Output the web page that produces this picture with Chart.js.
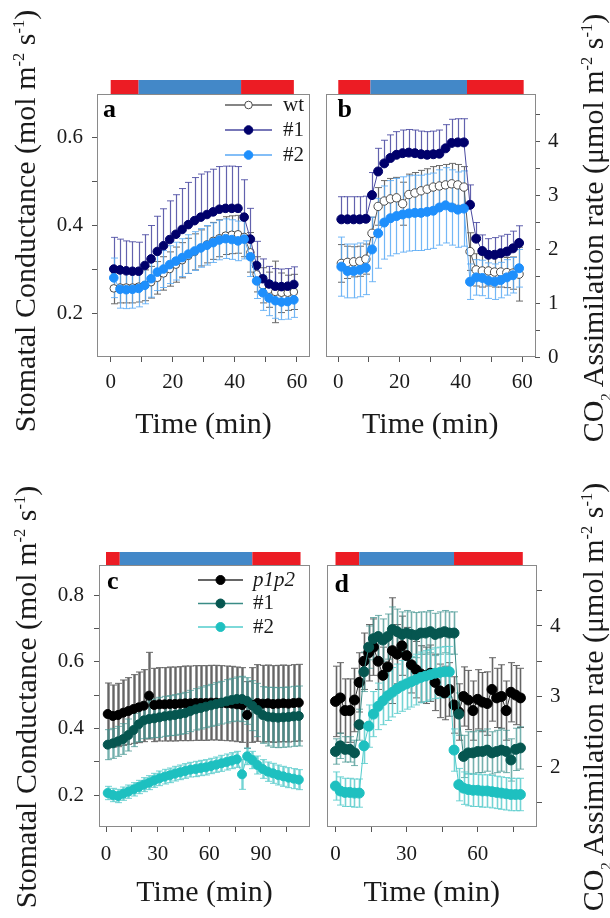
<!DOCTYPE html>
<html>
<head>
<meta charset="utf-8">
<script src="https://cdn.jsdelivr.net/npm/chart.js@4.4.1/dist/chart.umd.min.js"></script>
<style>
html, body { margin: 0; padding: 0; background: #fff; }
body { width: 610px; height: 918px; position: relative; overflow: hidden; font-family: "Liberation Serif", "Times New Roman", serif; color: #1a1a1a; }
canvas { position: absolute; }
.ytitle { position: absolute; width: 460px; height: 36px; line-height: 36px; font-size: 30px; text-align: center; white-space: nowrap; transform: rotate(-90deg); }
.ytitle sup { font-size: 55%; vertical-align: 0.65em; line-height: 0; }
.ytitle sub { font-size: 50%; vertical-align: -0.5em; line-height: 0; }
</style>
</head>
<body>
<canvas id="chartA" width="280" height="387" style="left:40px;top:60px"></canvas>
<canvas id="chartB" width="270" height="387" style="left:320px;top:60px"></canvas>
<canvas id="chartC" width="280" height="387" style="left:40px;top:530px"></canvas>
<canvas id="chartD" width="270" height="387" style="left:320px;top:530px"></canvas>

<div class="ytitle" style="left:-205px;top:203px">Stomatal Conductance (mol m<sup>-2</sup> s<sup>-1</sup>)</div>
<div class="ytitle" style="left:-204px;top:679px">Stomatal Conductance (mol m<sup>-2</sup> s<sup>-1</sup>)</div>
<div class="ytitle" style="left:363px;top:210px">CO<sub>2</sub> Assimilation rate (μmol m<sup>-2</sup> s<sup>-1</sup>)</div>
<div class="ytitle" style="left:363px;top:679px">CO<sub>2</sub> Assimilation rate (μmol m<sup>-2</sup> s<sup>-1</sup>)</div>

<script>
// ============================================================================
// DATA
// ============================================================================

// light regime strips above each panel (red / blue / red), in minutes
const aLight = [0, 9, 42, 59];
const bLight = [0, 10.5, 42, 60.5];
const cLight = [0, 8, 85, 113];
const dLight = [0, 10, 50, 79];

// panel a - stomatal conductance, wt / #1 / #2
const aTime = [1,3,5,7,9,11,13,15,17,19,21,23,25,27,29,31,33,35,37,39,41,43,45,47,49,51,53,55,57,59];
const aWt = [0.258,0.26,0.26,0.26,0.262,0.265,0.272,0.282,0.292,0.302,0.312,0.322,0.332,0.341,0.35,0.358,0.366,0.372,0.378,0.38,0.381,0.375,0.34,0.29,0.265,0.255,0.25,0.248,0.248,0.25];
const aWtErr = [0.035,0.035,0.035,0.035,0.035,0.035,0.036,0.037,0.038,0.039,0.04,0.04,0.04,0.041,0.041,0.042,0.042,0.042,0.043,0.043,0.043,0.045,0.045,0.04,0.04,0.04,0.07,0.045,0.04,0.04];
const aL1 = [0.302,0.3,0.298,0.297,0.297,0.31,0.325,0.342,0.355,0.369,0.381,0.392,0.403,0.412,0.42,0.426,0.432,0.438,0.44,0.44,0.44,0.42,0.37,0.31,0.28,0.268,0.263,0.262,0.263,0.267];
const aL1Err = [0.072,0.07,0.068,0.067,0.066,0.07,0.076,0.08,0.084,0.088,0.09,0.093,0.096,0.098,0.098,0.097,0.097,0.097,0.096,0.096,0.095,0.085,0.07,0.055,0.045,0.04,0.04,0.04,0.04,0.04];
const aL2 = [0.282,0.256,0.255,0.256,0.258,0.265,0.28,0.295,0.302,0.312,0.32,0.328,0.336,0.343,0.35,0.356,0.362,0.368,0.371,0.369,0.366,0.37,0.33,0.275,0.248,0.236,0.23,0.227,0.228,0.232];
const aL2Err = [0.045,0.043,0.043,0.043,0.042,0.042,0.042,0.042,0.042,0.043,0.043,0.043,0.044,0.044,0.044,0.045,0.045,0.045,0.045,0.045,0.045,0.045,0.045,0.04,0.04,0.04,0.04,0.04,0.04,0.04];

// panel b - CO2 assimilation, wt / #1 / #2
const bTime = [1,3,5,7,9,11,13,15,17,19,21,23,25,27,29,31,33,35,37,39,41,43,45,47,49,51,53,55,57,59];
const bWt = [1.74,1.76,1.77,1.78,1.82,2.3,2.8,2.9,2.94,2.96,2.85,3.02,3.05,3.09,3.12,3.16,3.18,3.2,3.22,3.2,3.16,1.96,1.62,1.6,1.6,1.58,1.58,1.57,1.56,1.54];
const bWtErr = [0.35,0.3,0.28,0.28,0.28,0.3,0.35,0.38,0.38,0.38,0.4,0.38,0.38,0.38,0.38,0.38,0.38,0.38,0.38,0.38,0.38,0.35,0.3,0.3,0.28,0.28,0.28,0.28,0.3,0.5];
const bL1 = [2.56,2.56,2.56,2.56,2.57,3.01,3.45,3.6,3.7,3.76,3.79,3.8,3.79,3.77,3.76,3.77,3.78,3.88,3.98,3.99,3.99,2.83,2.2,1.97,1.9,1.9,1.93,1.96,2.02,2.12];
const bL1Err = [0.42,0.42,0.42,0.42,0.42,0.42,0.43,0.43,0.43,0.43,0.43,0.43,0.43,0.43,0.43,0.43,0.44,0.44,0.44,0.44,0.44,0.37,0.3,0.3,0.3,0.32,0.32,0.32,0.32,0.32];
const bL2 = [1.68,1.6,1.6,1.62,1.66,2.0,2.3,2.5,2.58,2.62,2.65,2.67,2.68,2.68,2.7,2.72,2.78,2.82,2.78,2.74,2.76,1.4,1.48,1.47,1.42,1.4,1.43,1.48,1.52,1.65];
const bL2Err = [0.55,0.5,0.5,0.5,0.5,0.6,0.65,0.68,0.7,0.7,0.7,0.7,0.7,0.7,0.7,0.7,0.7,0.7,0.7,0.7,0.7,0.33,0.33,0.33,0.33,0.33,0.33,0.33,0.33,0.35];

// panel c - stomatal conductance, p1p2 / #1 / #2
const cTime = [1,4,7,10,13,16,19,22,25,28,31,34,37,40,43,46,49,52,55,58,61,64,67,70,73,76,79,82,85,88,91,94,97,100,103,106,109,112];
const cP = [0.443,0.437,0.44,0.447,0.452,0.458,0.463,0.468,0.498,0.47,0.472,0.472,0.473,0.473,0.474,0.475,0.475,0.476,0.476,0.476,0.477,0.477,0.476,0.475,0.474,0.472,0.47,0.44,0.47,0.476,0.474,0.475,0.473,0.474,0.475,0.474,0.476,0.477];
const cPErr = [0.093,0.093,0.095,0.098,0.1,0.103,0.106,0.108,0.13,0.11,0.11,0.11,0.111,0.111,0.111,0.112,0.112,0.112,0.112,0.112,0.112,0.112,0.112,0.112,0.112,0.112,0.112,0.1,0.112,0.115,0.115,0.115,0.115,0.115,0.115,0.115,0.115,0.115];
const cL1 = [0.351,0.355,0.361,0.368,0.38,0.395,0.412,0.424,0.428,0.43,0.433,0.436,0.438,0.44,0.443,0.446,0.452,0.457,0.461,0.465,0.469,0.473,0.477,0.481,0.485,0.488,0.488,0.482,0.468,0.455,0.44,0.435,0.433,0.432,0.433,0.434,0.436,0.437];
const cL1Err = [0.045,0.045,0.045,0.046,0.048,0.05,0.052,0.055,0.057,0.058,0.06,0.06,0.06,0.061,0.061,0.062,0.062,0.062,0.063,0.063,0.063,0.064,0.064,0.065,0.065,0.066,0.068,0.07,0.075,0.08,0.085,0.088,0.09,0.09,0.09,0.09,0.09,0.09];
const cL2 = [0.206,0.2,0.197,0.204,0.21,0.217,0.224,0.231,0.237,0.244,0.25,0.255,0.259,0.264,0.268,0.272,0.276,0.278,0.281,0.283,0.287,0.291,0.295,0.299,0.303,0.307,0.262,0.316,0.305,0.29,0.278,0.27,0.265,0.26,0.256,0.252,0.249,0.246];
const cL2Err = [0.02,0.02,0.02,0.02,0.02,0.02,0.02,0.021,0.021,0.021,0.022,0.022,0.022,0.022,0.022,0.022,0.022,0.023,0.023,0.023,0.023,0.023,0.024,0.024,0.024,0.024,0.045,0.025,0.026,0.027,0.028,0.029,0.03,0.03,0.03,0.03,0.03,0.03];

// panel d - CO2 assimilation, p1p2 / #1 / #2
const dTime = [0,2,4,6,8,10,12,14,16,18,20,22,24,26,28,30,32,34,36,38,40,42,44,46,48,50,52,54,56,58,60,62,64,66,68,70,72,74,76,78];
const dP = [2.93,2.98,2.8,2.8,2.95,3.2,3.5,3.62,3.7,3.5,3.3,3.42,3.65,3.6,3.72,3.58,3.45,3.38,3.32,3.3,3.33,3.2,3.08,3.05,3.1,2.88,2.78,3.0,2.95,2.8,2.96,2.92,2.9,3.1,2.98,3.0,2.8,3.06,3.02,2.98];
const dPErr = [0.5,0.5,0.45,0.45,0.45,0.42,0.4,0.4,0.4,0.4,0.4,0.4,0.75,0.42,0.42,0.4,0.4,0.4,0.4,0.4,0.4,0.4,0.38,0.38,0.38,0.4,0.4,0.42,0.42,0.42,0.42,0.42,0.45,0.45,0.42,0.45,0.42,0.42,0.42,0.42];
const dL1 = [2.22,2.3,2.25,2.25,2.2,2.6,3.35,3.7,3.82,3.85,3.8,3.85,3.95,3.92,3.88,3.9,3.88,3.87,3.9,3.9,3.92,3.88,3.9,3.92,3.9,3.9,2.75,2.15,2.2,2.2,2.22,2.22,2.24,2.2,2.22,2.24,2.22,2.1,2.25,2.27];
const dL1Err = [0.18,0.18,0.18,0.18,0.18,0.22,0.28,0.3,0.3,0.3,0.3,0.32,0.32,0.32,0.32,0.32,0.32,0.32,0.3,0.3,0.3,0.3,0.3,0.3,0.3,0.3,0.3,0.3,0.3,0.3,0.3,0.3,0.3,0.3,0.3,0.3,0.3,0.3,0.3,0.3];
const dL2 = [1.73,1.66,1.64,1.64,1.63,1.63,2.3,2.58,2.75,2.86,2.94,3.01,3.06,3.11,3.15,3.18,3.21,3.24,3.27,3.29,3.31,3.33,3.34,3.35,3.35,2.24,1.75,1.7,1.68,1.67,1.67,1.66,1.66,1.65,1.64,1.63,1.62,1.61,1.61,1.61];
const dL2Err = [0.2,0.2,0.2,0.2,0.2,0.2,0.25,0.3,0.32,0.33,0.34,0.35,0.35,0.35,0.36,0.36,0.36,0.36,0.36,0.36,0.36,0.36,0.36,0.36,0.36,0.3,0.23,0.23,0.23,0.23,0.23,0.23,0.23,0.23,0.23,0.23,0.23,0.23,0.23,0.23];

// axis ticks (all tick marks, then the ones that get a label)
const abXTicks = [0, 10, 20, 30, 40, 50, 60];
const abXLabels = [0, 20, 40, 60];
const cXTicks = [0, 15, 30, 45, 60, 75, 90, 105];
const cXLabels = [0, 30, 60, 90];
const dXTicks = [0, 15, 30, 45, 60, 75];
const dXLabels = [0, 30, 60];
const aYTicks = [0.2, 0.3, 0.4, 0.5, 0.6];
const aYLabels = [0.2, 0.4, 0.6];
const bYTicks = [0, 0.5, 1, 1.5, 2, 2.5, 3, 3.5, 4, 4.5];
const bYLabels = [0, 1, 2, 3, 4];
const cYTicks = [0.2, 0.3, 0.4, 0.5, 0.6, 0.7, 0.8];
const cYLabels = [0.2, 0.4, 0.6, 0.8];
const dYTicks = [1.5, 2, 2.5, 3, 3.5, 4, 4.5];
const dYLabels = [2, 3, 4];

// ============================================================================
// STYLES
// ============================================================================

const FONT = '"Liberation Serif", "Times New Roman", serif';
const TEXT = '#1a1a1a';
const RED = '#ec1c24';
const BLUE = '#4388c8';

const wtStyle = { borderColor: '#5c5c5c', pointBackgroundColor: '#fff', pointBorderColor: '#4a4a4a', pointBorderWidth: 1, pointRadius: 3.8, errColor: '#6b6b6b', order: 3 };
const a1Style = { borderColor: '#4a4aa0', pointBackgroundColor: '#00006b', pointBorderColor: '#00006b', pointRadius: 4.3, errColor: 'rgba(70,70,160,0.85)', errDir: 'up', order: 2 };
const a2Style = { borderColor: '#5aa9f5', pointBackgroundColor: '#1e8ffc', pointBorderColor: '#1e8ffc', pointRadius: 4.3, errColor: 'rgba(90,170,245,0.85)', order: 1 };
const pStyle = { borderColor: '#333', pointBackgroundColor: '#000', pointBorderColor: '#000', pointRadius: 4.5, errColor: '#666', order: 3, legendFont: 'italic 21px ' + FONT };
const t1Style = { borderColor: '#3a8c86', pointBackgroundColor: '#065650', pointBorderColor: '#065650', pointRadius: 4.5, errColor: 'rgba(70,150,145,0.75)', order: 2 };
const t2Style = { borderColor: '#52cccc', pointBackgroundColor: '#1ec0c0', pointBorderColor: '#1ec0c0', pointRadius: 4.5, errColor: 'rgba(90,205,205,0.85)', order: 1 };

function series(label, time, vals, err, style, extra) {
    return Object.assign({
        label: label,
        data: time.map((t, i) => ({ x: t, y: vals[i] })),
        err: err,
        showLine: true,
        borderWidth: 1,
        pointHoverRadius: 0
    }, style, extra || {});
}

// ============================================================================
// PLUGIN: error bars, frame, light strip, panel letter, legend
// ============================================================================

const deco = {
    id: 'deco',
    beforeDatasetsDraw(chart, args, o) {
        const ctx = chart.ctx, xs = chart.scales.x, ys = chart.scales.y;
        const cap = 3.5;
        ctx.save();
        ctx.lineWidth = o.errWidth;
        chart.data.datasets.forEach(ds => {
            ctx.strokeStyle = ds.errColor;
            ds.data.forEach((p, i) => {
                const e = ds.err[i];
                const px = Math.round(xs.getPixelForValue(p.x)) + 0.5;
                const top = ys.getPixelForValue(p.y + e);
                const bot = ys.getPixelForValue(ds.errDir === 'up' ? p.y : p.y - e);
                ctx.beginPath();
                ctx.moveTo(px, top); ctx.lineTo(px, bot);
                ctx.stroke();
                ctx.lineWidth = 1;
                ctx.beginPath();
                ctx.moveTo(px - cap, top); ctx.lineTo(px + cap, top);
                if (ds.errDir !== 'up') { ctx.moveTo(px - cap, bot); ctx.lineTo(px + cap, bot); }
                ctx.stroke();
                ctx.lineWidth = o.errWidth;
            });
        });
        ctx.restore();
    },
    afterDraw(chart, args, o) {
        const ctx = chart.ctx, a = chart.chartArea, xs = chart.scales.x;
        ctx.save();

        // light strip
        const cols = [RED, BLUE, RED];
        for (let i = 0; i < o.light.length - 1; i++) {
            const x0 = xs.getPixelForValue(o.light[i]);
            const x1 = xs.getPixelForValue(o.light[i + 1]);
            ctx.fillStyle = cols[i];
            ctx.fillRect(x0, a.top - o.stripH, x1 - x0, o.stripH);
        }

        // frame
        ctx.strokeStyle = '#8a8a8a';
        ctx.lineWidth = 1;
        ctx.strokeRect(Math.round(a.left) + 0.5, Math.round(a.top) + 0.5, Math.round(a.right - a.left) - 1, Math.round(a.bottom - a.top) - 1);

        // panel letter
        ctx.fillStyle = '#000';
        ctx.font = 'bold 26px ' + FONT;
        ctx.textBaseline = 'alphabetic';
        ctx.textAlign = 'left';
        ctx.fillText(o.letter, a.left + o.letterX, a.top + o.letterY);

        // legend
        const lg = o.legend;
        if (lg) {
            chart.data.datasets.forEach((ds, i) => {
                const y0 = a.top + lg.dy + i * lg.gap;
                const x0 = a.left + lg.dx;
                ctx.strokeStyle = ds.borderColor;
                ctx.lineWidth = 1.5;
                ctx.beginPath();
                ctx.moveTo(x0, y0); ctx.lineTo(x0 + lg.len, y0);
                ctx.stroke();
                ctx.beginPath();
                ctx.arc(x0 + lg.len / 2, y0, ds.pointRadius, 0, Math.PI * 2);
                ctx.fillStyle = ds.pointBackgroundColor;
                ctx.fill();
                ctx.lineWidth = 1;
                ctx.strokeStyle = ds.pointBorderColor;
                ctx.stroke();
                ctx.font = ds.legendFont || ('21px ' + FONT);
                ctx.fillStyle = TEXT;
                ctx.textBaseline = 'middle';
                ctx.fillText(ds.label, x0 + lg.len + lg.textGap, y0);
            });
        }
        ctx.restore();
    }
};

// ============================================================================
// CHART BUILDER
// ============================================================================

function makeChart(id, cfg) {
    const tickFont = { family: FONT, size: 21 };
    const grid = { drawOnChartArea: false, drawTicks: true, tickLength: 5, color: '#555', lineWidth: 1 };
    return new Chart(document.getElementById(id), {
        type: 'scatter',
        data: { datasets: cfg.datasets },
        options: {
            responsive: false,
            animation: false,
            devicePixelRatio: 1,
            layout: { padding: cfg.padding },
            plugins: { legend: { display: false }, tooltip: { enabled: false }, deco: cfg.deco },
            scales: {
                x: {
                    type: 'linear', bounds: 'data', min: cfg.xMin, max: cfg.xMax,
                    afterFit: s => { s.height = 90; },
                    afterBuildTicks: s => { s.ticks = cfg.xTicks.map(v => ({ value: v })); },
                    ticks: { autoSkip: false, maxRotation: 0, padding: cfg.xPad, font: tickFont, color: TEXT,
                        callback: v => cfg.xLabels.includes(v) ? String(v) : '' },
                    grid: grid,
                    border: { display: false },
                    title: { display: true, text: 'Time (min)', color: TEXT, font: { family: FONT, size: 30 },
                        padding: { top: 0, bottom: cfg.titlePad } }
                },
                y: {
                    type: 'linear', bounds: 'data', position: cfg.yPos, min: cfg.yMin, max: cfg.yMax,
                    afterFit: s => { s.width = cfg.yWidth; },
                    afterBuildTicks: s => { s.ticks = cfg.yTicks.map(v => ({ value: v })); },
                    ticks: { autoSkip: false, padding: cfg.yPad, font: tickFont, color: TEXT,
                        callback: v => cfg.yLabels.includes(v) ? cfg.yFmt(v) : '' },
                    grid: grid,
                    border: { display: false }
                }
            }
        },
        plugins: [deco]
    });
}

const oneDec = v => v.toFixed(1);
const noDec = v => String(v);

makeChart('chartA', {
    datasets: [
        series('wt', aTime, aWt, aWtErr, wtStyle),
        series('#1', aTime, aL1, aL1Err, a1Style),
        series('#2', aTime, aL2, aL2Err, a2Style)
    ],
    padding: { top: 34, right: 10, left: 0, bottom: 0 },
    xMin: -4.41, xMax: 64.2, xTicks: abXTicks, xLabels: abXLabels, xPad: 8, titlePad: 4,
    yPos: 'left', yMin: 0.102, yMax: 0.7, yTicks: aYTicks, yLabels: aYLabels, yFmt: oneDec, yWidth: 57, yPad: 9,
    deco: { light: aLight, stripH: 14, letter: 'a', letterX: 6, letterY: 23, errWidth: 1.2,
        legend: { dx: 128, dy: 11, gap: 25, len: 47, textGap: 11 } }
});

makeChart('chartB', {
    datasets: [
        series('wt', bTime, bWt, bWtErr, wtStyle, { pointRadius: 4.2 }),
        series('#1', bTime, bL1, bL1Err, a1Style, { pointRadius: 4.5 }),
        series('#2', bTime, bL2, bL2Err, a2Style, { pointRadius: 4.5 })
    ],
    padding: { top: 34, right: 0, left: 2, bottom: 0 },
    xMin: -4.17, xMax: 64.2, xTicks: abXTicks, xLabels: abXLabels, xPad: 8, titlePad: 4,
    yPos: 'right', yMin: 0, yMax: 4.89, yTicks: bYTicks, yLabels: bYLabels, yFmt: noDec, yWidth: 55, yPad: 8,
    deco: { light: bLight, stripH: 14, letter: 'b', letterX: 12, letterY: 23, errWidth: 1.2 }
});

makeChart('chartC', {
    datasets: [
        series('p1p2', cTime, cP, cPErr, pStyle),
        series('#1', cTime, cL1, cL1Err, t1Style),
        series('#2', cTime, cL2, cL2Err, t2Style)
    ],
    padding: { top: 35, right: 10, left: 0, bottom: 0 },
    xMin: -4.07, xMax: 118.5, xTicks: cXTicks, xLabels: cXLabels, xPad: 10, titlePad: 6,
    yPos: 'left', yMin: 0.104, yMax: 0.89, yTicks: cYTicks, yLabels: cYLabels, yFmt: oneDec, yWidth: 59, yPad: 10,
    deco: { light: cLight, stripH: 13, letter: 'c', letterX: 8, letterY: 24, errWidth: 2.4,
        legend: { dx: 99, dy: 15, gap: 23.5, len: 45, textGap: 10 } }
});

makeChart('chartD', {
    datasets: [
        series('p1p2', dTime, dP, dPErr, pStyle, { pointRadius: 5 }),
        series('#1', dTime, dL1, dL1Err, t1Style, { pointRadius: 5 }),
        series('#2', dTime, dL2, dL2Err, t2Style, { pointRadius: 5 })
    ],
    padding: { top: 35, right: 0, left: 5, bottom: 0 },
    xMin: -3.77, xMax: 85.0, xTicks: dXTicks, xLabels: dXLabels, xPad: 10, titlePad: 6,
    yPos: 'right', yMin: 1.149, yMax: 4.865, yTicks: dYTicks, yLabels: dYLabels, yFmt: noDec, yWidth: 53, yPad: 8,
    deco: { light: dLight, stripH: 13, letter: 'd', letterX: 8, letterY: 27, errWidth: 1.6 }
});
</script>
</body>
</html>
